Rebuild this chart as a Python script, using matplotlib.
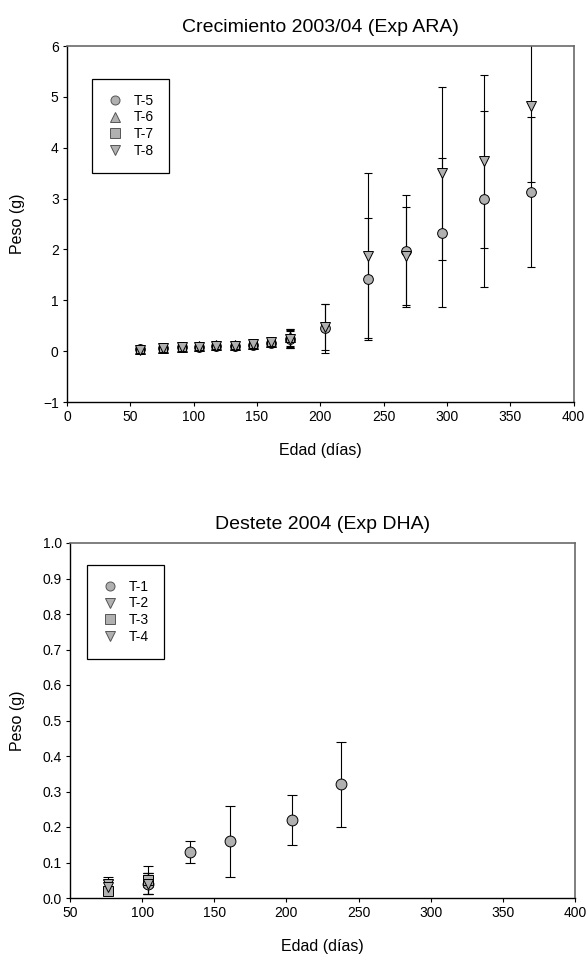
import matplotlib
matplotlib.use("Agg")
import matplotlib.pyplot as plt

plt.rcParams['font.family'] = ['Liberation Sans', 'DejaVu Sans']

# --- Crecimiento 2003/04 (Exp ARA) ---
dias_ara = [58, 76, 91, 104, 118, 133, 147, 161, 176, 204, 238, 268, 296, 329, 366]
dias_ara_corto = [58, 76, 91, 104, 118, 133, 147, 161, 176]

t5 = [0.04, 0.06, 0.08, 0.09, 0.11, 0.11, 0.13, 0.16, 0.24, 0.45, 1.42, 1.97, 2.33, 3.00, 3.13]
t5_err = [0.01, 0.01, 0.02, 0.02, 0.02, 0.02, 0.03, 0.04, 0.15, 0.48, 1.20, 1.10, 1.46, 1.73, 1.48]
t6 = [0.05, 0.07, 0.09, 0.10, 0.12, 0.12, 0.15, 0.18, 0.27]
t6_err = [0.01, 0.01, 0.02, 0.02, 0.02, 0.02, 0.03, 0.04, 0.16]
t7 = [0.05, 0.07, 0.09, 0.10, 0.12, 0.12, 0.15, 0.18, 0.25]
t7_err = [0.01, 0.01, 0.02, 0.02, 0.02, 0.02, 0.03, 0.04, 0.18]
t8 = [0.03, 0.06, 0.08, 0.09, 0.11, 0.11, 0.14, 0.17, 0.24, 0.48, 1.88, 1.87, 3.50, 3.73, 4.82]
t8_err = [0.01, 0.01, 0.02, 0.02, 0.02, 0.02, 0.03, 0.04, 0.17, 0.45, 1.62, 0.97, 1.70, 1.70, 1.50]

# --- Destete 2004 (Exp DHA) ---
dias_t1 = [104, 133, 161, 204, 238]
t1 = [0.04, 0.13, 0.16, 0.22, 0.32]
t1_err = [0.03, 0.03, 0.10, 0.07, 0.12]
dias_dha = [76, 104]
t2 = [0.04, 0.05]
t2_err = [0.02, 0.04]
t3 = [0.02, 0.05]
t3_err = [0.01, 0.02]
t4 = [0.03, 0.04]
t4_err = [0.02, 0.03]

W, H = 586, 958
fig = plt.figure(figsize=(W / 100, H / 100), dpi=100)

gris = '#b0b0b0'


def style_axes(ax):
    for s in ['left', 'bottom']:
        ax.spines[s].set_color('black')
        ax.spines[s].set_linewidth(1.0)
    for s in ['top', 'right']:
        ax.spines[s].set_color('#6a6a6a')
        ax.spines[s].set_linewidth(1.2)
    ax.tick_params(direction='out', length=3, width=0.8, labelsize=10,
                   top=False, right=False, pad=3)


def serie(ax, x, y, e, marker, label, ms=7, cap=3.2):
    ax.errorbar(x, y, yerr=e, fmt='none', ecolor='black', elinewidth=0.8,
                capsize=cap, capthick=0.8, zorder=2)
    ax.plot(x, y, linestyle='none', marker=marker, markersize=ms,
            markerfacecolor=gris, markeredgecolor='black', markeredgewidth=0.7,
            zorder=3)
    # handle para la leyenda
    ax.plot([], [], linestyle='none', marker=marker, markersize=6.5,
            markerfacecolor=gris, markeredgecolor='#555555', markeredgewidth=0.7,
            label=label)


def leyenda(ax, x, y):
    leg = ax.legend(loc='upper left', bbox_to_anchor=(x, y), borderaxespad=0,
                    fontsize=10, frameon=True, fancybox=False, framealpha=1,
                    edgecolor='black', handlelength=1.2, handletextpad=0.75,
                    labelspacing=0.2, borderpad=1.05)
    leg.get_frame().set_linewidth(0.9)


# panel superior
ax1 = fig.add_axes([67 / W, (H - 402) / H, 506.6 / W, 356 / H])
style_axes(ax1)
serie(ax1, dias_ara, t5, t5_err, 'o', 'T-5')
serie(ax1, dias_ara_corto, t6, t6_err, '^', 'T-6')
serie(ax1, dias_ara_corto, t7, t7_err, 's', 'T-7', ms=6.3)
serie(ax1, dias_ara, t8, t8_err, 'v', 'T-8')
ax1.set_xlim(0, 400)
ax1.set_ylim(-1, 6)
ax1.set_xticks(range(0, 401, 50))
ax1.set_yticks(range(-1, 7))
ax1.set_title('Crecimiento 2003/04 (Exp ARA)', fontsize=14, pad=10)
ax1.set_xlabel('Edad (días)', fontsize=11.5)
ax1.set_ylabel('Peso (g)', fontsize=11.5)
ax1.xaxis.set_label_coords(0.5, -0.115)
ax1.yaxis.set_label_coords(-0.083, 0.5)
leyenda(ax1, 0.05, 0.907)

# panel inferior
ax2 = fig.add_axes([70 / W, (H - 898) / H, 505 / W, 355 / H])
style_axes(ax2)
serie(ax2, dias_t1, t1, t1_err, 'o', 'T-1', ms=7.8, cap=3.8)
serie(ax2, dias_dha, t2, t2_err, 'v', 'T-2', ms=7.8, cap=3.8)
serie(ax2, dias_dha, t3, t3_err, 's', 'T-3', ms=7, cap=3.8)
serie(ax2, dias_dha, t4, t4_err, 'v', 'T-4', ms=7.8, cap=3.8)
ax2.set_xlim(50, 400)
ax2.set_ylim(0, 1.0)
ax2.set_xticks(range(50, 401, 50))
ax2.set_yticks([i / 10 for i in range(11)])
ax2.set_yticklabels([f'{i / 10:.1f}' for i in range(11)])
ax2.set_title('Destete 2004 (Exp DHA)', fontsize=14, pad=10)
ax2.set_xlabel('Edad (días)', fontsize=11.5)
ax2.set_ylabel('Peso (g)', fontsize=11.5)
ax2.xaxis.set_label_coords(0.5, -0.115)
ax2.yaxis.set_label_coords(-0.089, 0.5)
leyenda(ax2, 0.034, 0.938)

fig.savefig('out.png', dpi=100)
